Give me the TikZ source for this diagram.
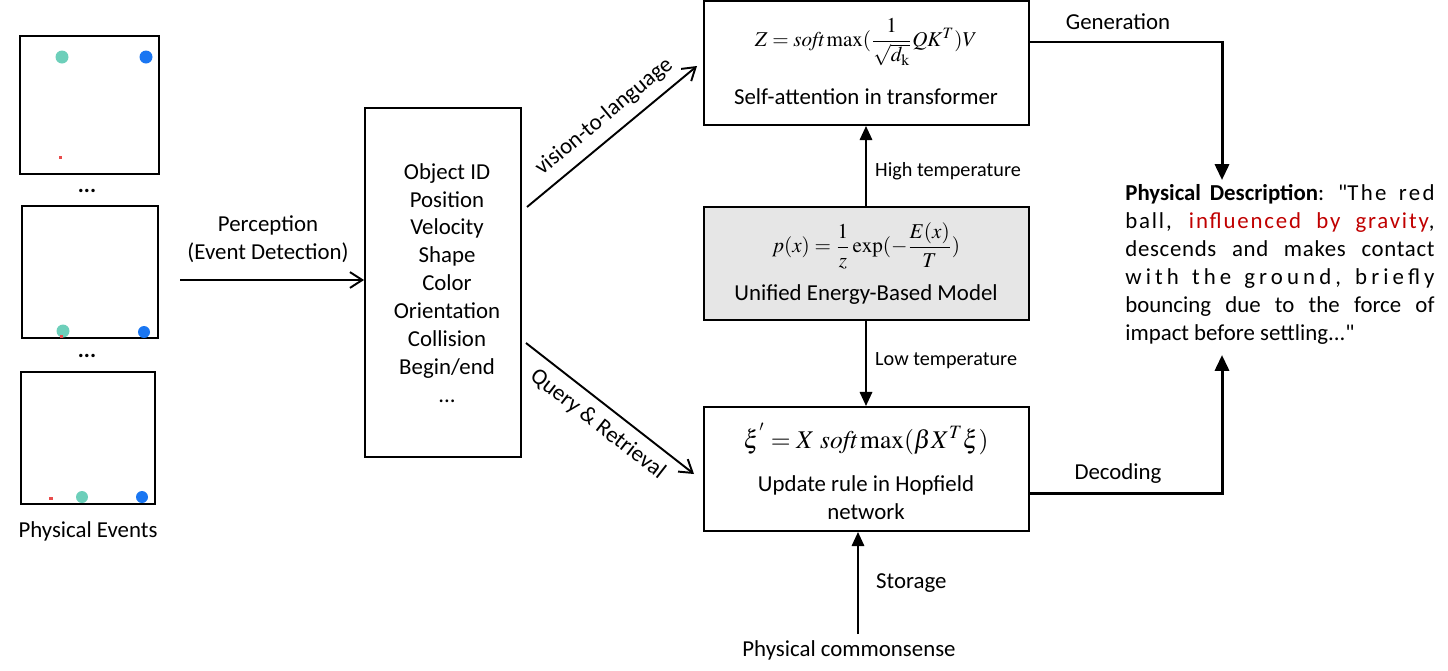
\documentclass[tikz,border=0pt]{standalone}
\usepackage{amsmath}
\usepackage{mathptmx}
\usepackage[no-math]{fontspec}
\setmainfont{Carlito}
\usetikzlibrary{arrows.meta}
\newcommand{\lsp}[2]{{\addfontfeature{LetterSpace=#1}#2}}
\begin{document}
\begin{tikzpicture}[x=0.02cm,y=-0.02cm,
  every node/.style={font=\fontsize{13}{15.9}\selectfont},
  box/.style={draw,line width=1.1pt,inner sep=0pt},
  panel/.style={draw,line width=0.8pt,inner sep=0pt},
  openarrow/.style={line width=1.1pt,-{Straight Barb[length=7pt,width=9pt,line width=1.1pt]}},
  fillarrow/.style={line width=1.3pt,-{Triangle[length=8pt,width=7pt]}},
  thickarrow/.style={line width=1.7pt,-{Triangle[length=9pt,width=8pt]}},
  small/.style={font=\fontsize{11.5}{14}\selectfont}]
\definecolor{tealc}{HTML}{6DCFBA}
\definecolor{bluec}{HTML}{1A76F2}
\definecolor{redc}{HTML}{E84C4C}
\definecolor{darkred}{HTML}{C00000}
\definecolor{boxgray}{HTML}{E6E6E6}
\useasboundingbox (0,0) rectangle (1448,670);

% physical event panels
\node[panel,minimum width=2.78cm,minimum height=2.76cm] (p1) at (89.5,105) {};
\node[panel,minimum width=2.72cm,minimum height=2.64cm] (p2) at (90,272) {};
\node[panel,minimum width=2.68cm,minimum height=2.64cm] (p3) at (88,438) {};
\fill[tealc] (62,57) circle (6.5);
\fill[bluec] (146,57) circle (6.5);
\fill[redc] (59,156) rectangle (62,159);
\fill[tealc] (63,331) circle (6.5);
\fill[bluec] (144,332) circle (6);
\fill[redc] (60,335) rectangle (63,338);
\fill[tealc] (82,497) circle (6);
\fill[bluec] (142,497) circle (6);
\fill[redc] (49,497) rectangle (53,500);
\node (d1) at (87,191) {\textbf{...}};
\node (d2) at (87,356) {\textbf{...}};
\node (pe) at (88,531) {Physical Events};

% perception
\coordinate (pstart) at (180,280);
\node[box,minimum width=3.12cm,minimum height=6.98cm] (attr) at (443,282.5) {};
\node[align=center] (attrtxt) at (447,283) {Object ID\\Position\\Velocity\\Shape\\Color\\Orientation\\Collision\\Begin/end\\...};
\draw[openarrow] (pstart) -- (attr.west|-pstart);
\node[align=center] (perc) at (268,239) {Perception\\(Event Detection)};

% right boxes
\node[box,minimum width=6.5cm,minimum height=2.48cm] (sa) at (866.5,63) {};
\node (saf) at (866,42) {\fontsize{12}{14}\selectfont $Z=\mathit{soft}\max(\dfrac{1}{\sqrt{d_{\mathrm{k}}}}QK^T)V$};
\node (sat) at (866,97) {Self-attention in transformer};

\node[box,fill=boxgray,minimum width=6.5cm,minimum height=2.26cm] (eb) at (866.5,263.5) {};
\node (ebf) at (866,246) {\fontsize{12}{14}\selectfont $p(x)=\dfrac{1}{z}\exp(-\dfrac{E(x)}{T})$};
\node (ebt) at (866,295) {Unified Energy-Based Model};

\node[box,minimum width=6.5cm,minimum height=2.48cm] (hp) at (866.5,469) {};
\node (hpf) at (866,439) {\fontsize{14.5}{17}\selectfont $\xi^{'}=X\ \mathit{soft}\max(\beta X^T\xi)$};
\node[align=center] (hpt) at (866,498) {Update rule in Hopfield\\network};

% diagonal arrows
\coordinate (v1) at (527,207);
\coordinate (v2) at (697,66);
\draw[openarrow] (v1) -- (v2) node[pos=0.53,sloped,above=2pt] {vision-to-language};
\coordinate (q1) at (526,343);
\coordinate (q2) at (694,474);
\draw[openarrow] (q1) -- (q2) node[pos=0.5,sloped,below=2pt] {Query \& Retrieval};

% vertical arrows
\draw[fillarrow] (eb.north-|866,0) -- (sa.south-|866,0);
\node[anchor=west,small] (ht) at (869,171) {High temperature};
\draw[fillarrow] (eb.south-|866,0) -- (hp.north-|866,0);
\node[anchor=west,small] (lt) at (869,361) {Low temperature};

\node (pc) at (849,650) {Physical commonsense};
\coordinate (st) at (858,634);
\draw[fillarrow] (st) -- (hp.south-|st);
\node[anchor=west] (stl) at (870,583) {Storage};

% physical description
\node[anchor=north west,inner sep=0pt] (desc) at (1125,184) {\parbox{176pt}{\fontsize{13}{15.9}\selectfont
\textbf{Physical Description}: \lsp{10}{\textquotedbl The red}\linebreak
\lsp{8}{ball, \textcolor{darkred}{influenced by gravity},}\linebreak
\lsp{3}{descends and makes contact}\linebreak
\lsp{18}{with the ground, briefly}\linebreak
bouncing due to the force of\linebreak
impact before settling...\textquotedbl}};

\coordinate (g1) at (1222,42);
\draw[thickarrow] (sa.east|-g1) -- (g1) -- (1222,180);
\node (gen) at (1118,22) {Generation};
\coordinate (c1) at (1222,493);
\draw[thickarrow] (hp.east|-c1) -- (c1) -- (1222,355);
\node (dec) at (1118,474) {Decoding};
\end{tikzpicture}
\end{document}
